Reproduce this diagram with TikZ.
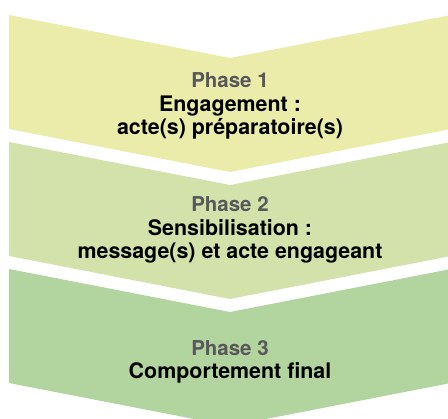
\documentclass[tikz,border=0pt]{standalone}
\usepackage{fontspec}
\setmainfont{TeX Gyre Heros}
\usepackage{xcolor}
\usepackage{tikz}
\usetikzlibrary{calc, positioning}

\definecolor{phaseyellow}{RGB}{235,236,169}
\definecolor{phaselight}{RGB}{210,226,170}
\definecolor{phasegreen}{RGB}{178,212,158}
\definecolor{phasegray}{RGB}{88,88,90}

\newcommand{\phasename}[1]{{\color{phasegray}\fontsize{20.5}{23.5}\selectfont #1}}

\tikzset{
  phasetext/.style={align=center, font=\bfseries\fontsize{21.4}{23.5}\selectfont, inner sep=0pt},
}

\begin{document}
\begin{tikzpicture}[x=1pt, y=-1pt]
			% Fix the page size
			\useasboundingbox (0,0) rectangle (448,419);
			\clip (0,0) rectangle (448,419);
			
			% Chevron for phase 1
			\fill[phaseyellow] (9,15) -- (230,58) -- (451,15) -- (451,129) -- (230,172) -- (9,129) -- cycle;
			
			% Chevron for phase 2
			\fill[phaselight] (9,142) -- (230,185) -- (451,142) -- (451,256) -- (230,299) -- (9,256) -- cycle;
			
			% Chevron for phase 3
			\fill[phasegreen] (9,269) -- (230,312) -- (451,269) -- (451,383) -- (230,426) -- (9,383) -- cycle;
			
			% Add labels
			\node[phasetext] (phaseone) at (230,106) {\phasename{Phase 1}\\Engagement :\\acte(s) préparatoire(s)};
			\node[phasetext] (phasetwo) at (230,230) {\phasename{Phase 2}\\Sensibilisation :\\message(s) et acte engageant};
			\node[phasetext] (phasethree) at (230,362) {\phasename{Phase 3}\\Comportement final};
		\end{tikzpicture}
\end{document}
